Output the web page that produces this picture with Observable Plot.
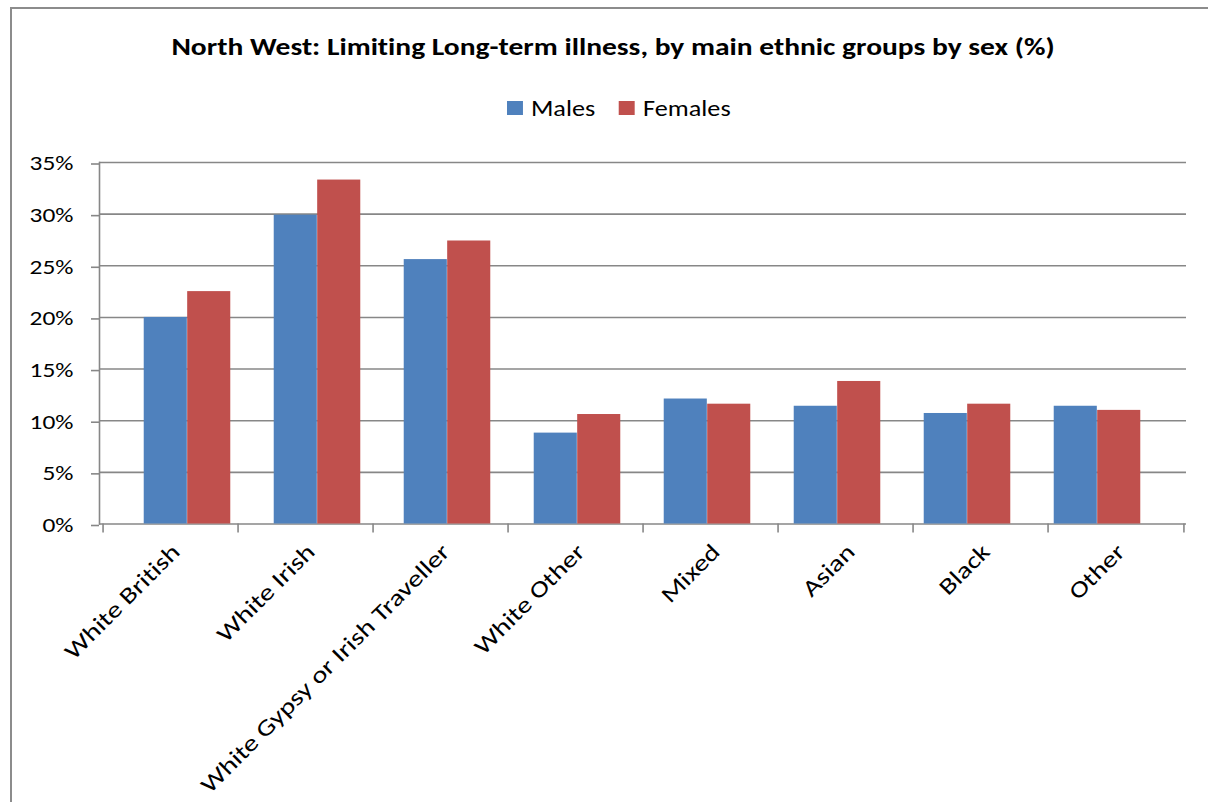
<!DOCTYPE html>
<html>
<head>
<meta charset="utf-8">
<script src="https://cdn.jsdelivr.net/npm/d3@7"></script>
<script src="https://cdn.jsdelivr.net/npm/@observablehq/plot@0.6"></script>
<style>
  html, body { margin: 0; padding: 0; background: #fff; }
  #chart { position: relative; width: 1208px; height: 802px; overflow: hidden; font-family: Carlito, Lato, "Open Sans", sans-serif; font-variant-ligatures: none; }
  #border { position: absolute; left: 10px; top: 7px; width: 1300px; height: 900px; border-left: 2px solid #8c8c8c; border-top: 2px solid #8c8c8c; }
  #title { position: absolute; left: 8.5px; width: 1208px; top: 32px; text-align: center; font-weight: bold; font-size: 25px; line-height: 30px; color: #000; transform: scaleX(1.18); transform-origin: 50% 50%; white-space: nowrap; }
  #legend { position: absolute; left: 507px; top: 95px; display: flex; align-items: center; font-size: 23px; line-height: 26px; color: #000; transform: scaleX(1.14); transform-origin: 0 50%; white-space: nowrap; }
  .item { display: flex; align-items: center; margin-right: 21px; }
  .sw { width: 14px; height: 14px; margin-right: 7px; }
  #plots { position: absolute; left: 0; top: 140px; width: 1208px; height: 662px; }
  #plots > svg { position: absolute; left: 0; top: 0; font-variant-ligatures: none; }
</style>
</head>
<body>
<div id="chart">
  <div id="border"></div>
  <div id="title"></div>
  <div id="legend"></div>
  <div id="plots"></div>
</div>
<script>
const titleText = "North West: Limiting Long-term illness, by main ethnic groups by sex (%)";
const categories = ["White British", "White Irish", "White Gypsy or Irish Traveller", "White Other", "Mixed", "Asian", "Black", "Other"];
const males   = [20.0, 29.9, 25.6, 8.8, 12.1, 11.4, 10.7, 11.4];
const females = [22.5, 33.3, 27.4, 10.6, 11.6, 13.8, 11.6, 11.0];
const seriesNames = ["Males", "Females"];
const seriesColors = ["#4F81BD", "#C0504D"];
const yTicks = [0, 5, 10, 15, 20, 25, 30, 35];

document.getElementById("title").textContent = titleText;
const legend = document.getElementById("legend");
seriesNames.forEach((n, i) => {
  const it = document.createElement("div");
  it.className = "item";
  const sw = document.createElement("div");
  sw.className = "sw";
  sw.style.background = seriesColors[i];
  const t = document.createElement("span");
  t.textContent = n;
  it.appendChild(sw); it.appendChild(t);
  legend.appendChild(it);
});

const rows = [];
categories.forEach((c, i) => {
  rows.push({category: c, sex: seriesNames[0], value: males[i]});
  rows.push({category: c, sex: seriesNames[1], value: females[i]});
});

const W = 1208, H = 662;
const mL = 99, mR = 22, mT = 22, mB = 278.5;
const bw = (W - mL - mR) / categories.length;
const font = "Carlito, Lato, 'Open Sans', sans-serif";
const grey = "#878787";

// Axes, gridlines and labels
const plotA = Plot.plot({
  width: W, height: H,
  marginLeft: mL, marginRight: mR, marginTop: mT, marginBottom: mB,
  style: {fontFamily: font, color: "#000", background: "transparent", overflow: "visible"},
  x: {type: "band", domain: categories, padding: 0, axis: null},
  y: {domain: [0, 35], axis: null},
  marks: [
    Plot.gridY(yTicks, {stroke: grey, strokeOpacity: 1, strokeWidth: 1.6}),
    Plot.frame({anchor: "left", stroke: grey, strokeWidth: 1.6}),
    Plot.axisY(yTicks, {tickSize: 8, tickPadding: 18, stroke: grey, strokeWidth: 1.6, tickFormat: d => d + "%", fill: "#000", fontSize: 20, dy: 1.5}),
    Plot.axisX(categories, {tickSize: 9, text: null, dx: -bw / 2, stroke: grey, strokeWidth: 1.6}),
    Plot.axisX(categories.slice(-1), {tickSize: 9, text: null, dx: bw / 2, stroke: grey, strokeWidth: 1.6}),
    Plot.axisX(categories, {tickSize: 0, tickPadding: 24, tickRotate: -45, dx: 5, fill: "#000", fontSize: 23})
  ]
});

// Widen the label glyphs along their own direction, as in the reference
function widen(svg, label, s) {
  svg.querySelectorAll(`g[aria-label="${label}"] text`).forEach(t => {
    const x = t.getAttribute("x");
    const tr = t.getAttribute("transform") || "";
    if (x !== null && isFinite(+x) && +x !== 0) {
      t.removeAttribute("x");
      t.setAttribute("transform", `${tr} translate(${+x},0) scale(${s},1)`);
    } else {
      t.setAttribute("transform", `${tr} scale(${s},1)`);
    }
  });
}
widen(plotA, "y-axis tick label", 1.27);
widen(plotA, "x-axis tick label", 1.25);

// Bars
const xRange = [120.8, 1163.7];
const band = (xRange[1] - xRange[0]) / categories.length;
const barW = band / 3;
const plotB = Plot.plot({
  width: W, height: H,
  marginLeft: mL, marginRight: mR, marginTop: mT, marginBottom: mB,
  style: {background: "transparent"},
  x: {type: "band", domain: categories, range: xRange, padding: 0, axis: null},
  y: {domain: [0, 35], axis: null},
  marks: [
    Plot.barY(rows.filter(d => d.sex === seriesNames[0]), {x: "category", y: "value", fill: seriesColors[0], insetLeft: band / 2 - barW, insetRight: band / 2}),
    Plot.barY(rows.filter(d => d.sex === seriesNames[1]), {x: "category", y: "value", fill: seriesColors[1], insetLeft: band / 2, insetRight: band / 2 - barW})
  ]
});

const plots = document.getElementById("plots");
plots.appendChild(plotA);
plots.appendChild(plotB);
</script>
</body>
</html>
